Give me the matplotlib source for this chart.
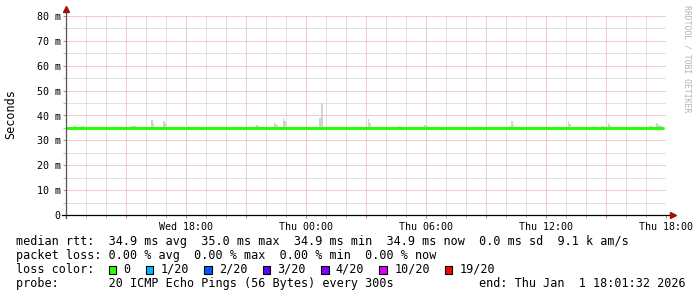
import matplotlib
matplotlib.use("Agg")
import matplotlib.pyplot as plt
from matplotlib.patches import Rectangle
from matplotlib.ticker import MultipleLocator, FuncFormatter

W, H = 697, 297

# time axis: hours since Wed 12:00
median_t = [0.0, 6.0, 12.0, 18.0, 24.0, 29.9]
median_ms = [35.0, 34.9, 34.9, 34.9, 34.9, 34.9]

# smoke (spread of the 20 pings), start/end hour and top in ms
smoke_start = [0.35, 0.75, 3.25, 3.60, 4.25, 4.35, 4.85, 4.95, 6.10, 9.50, 9.60,
               10.40, 10.50, 10.85, 10.90, 12.65, 12.75, 15.10, 15.15, 16.65,
               17.90, 18.00, 22.15, 22.25, 22.35, 25.10, 25.15, 26.35, 26.75,
               27.10, 27.15, 29.15, 29.50, 29.60, 29.70]
smoke_end = [0.50, 0.90, 3.50, 3.65, 4.35, 4.40, 4.95, 5.00, 6.15, 9.60, 9.65,
             10.50, 10.60, 10.90, 11.00, 12.75, 12.85, 15.15, 15.25, 16.75,
             18.00, 18.10, 22.25, 22.35, 22.40, 25.15, 25.25, 26.40, 26.90,
             27.15, 27.25, 29.30, 29.60, 29.70, 29.80]
smoke_top = [35.8, 35.8, 35.8, 35.5, 38.2, 37.0, 37.8, 37.0, 35.8, 36.2, 35.8,
             37.0, 36.2, 39.0, 37.8, 39.0, 45.0, 38.6, 37.0, 35.8,
             36.2, 35.8, 35.8, 37.8, 36.2, 37.8, 36.6, 35.8, 35.8,
             37.0, 36.2, 35.8, 37.0, 36.2, 35.8]

x_label_hours = [6, 12, 18, 24, 30]
x_labels = ["Wed 18:00", "Thu 00:00", "Thu 06:00", "Thu 12:00", "Thu 18:00"]

stats_lines = [
    "median rtt:  34.9 ms avg  35.0 ms max  34.9 ms min  34.9 ms now  0.0 ms sd  9.1 k am/s",
    "packet loss: 0.00 % avg  0.00 % max  0.00 % min  0.00 % now",
    "loss color:",
    "probe:       20 ICMP Echo Pings (56 Bytes) every 300s",
]
end_text = "end: Thu Jan  1 18:01:32 2026"
loss_labels = ["0", "1/20", "2/20", "3/20", "4/20", "10/20", "19/20"]
loss_colors = ["#26ff00", "#00b8ff", "#0059ff", "#5e00ff", "#7e00ff", "#dd00ff", "#ff0000"]

MONO = "DejaVu Sans Mono"


def fx(x):
    return x / W


def fy(y):
    return 1 - y / H


fig = plt.figure(figsize=(W / 100, H / 100), dpi=100)
ax = fig.add_axes([fx(66), fy(215), 600 / W, 199 / H])
ax.set_xlim(0, 30)
ax.set_ylim(0, 80)

for s, e, top in zip(smoke_start, smoke_end, smoke_top):
    ax.bar(s, top - 34.9, bottom=34.9, width=e - s, align="edge",
           color="#d2d2d2", linewidth=0, zorder=2)

ax.plot(median_t, median_ms, drawstyle="steps-post", color="#26ff00",
        lw=2.2, solid_capstyle="butt", zorder=3)

# grid
ax.xaxis.set_major_locator(MultipleLocator(3))
ax.xaxis.set_minor_locator(MultipleLocator(1))
ax.yaxis.set_major_locator(MultipleLocator(10))
ax.yaxis.set_minor_locator(MultipleLocator(5))
ax.set_axisbelow(True)
ax.grid(which="minor", color="#c4c4c4", lw=0.72, linestyle=(0, (1, 1)))
ax.grid(which="major", color="#e49a9a", lw=0.72, linestyle=(0, (1, 1)))

lab = dict(zip(x_label_hours, x_labels))
ax.xaxis.set_major_formatter(FuncFormatter(lambda v, p: lab.get(int(round(v)), "")))
ax.yaxis.set_major_formatter(FuncFormatter(lambda v, p: "0" if v == 0 else "%d m" % v))
ax.tick_params(which="both", length=2.2, width=0.72, pad=1.5, labelsize=7.2)
ax.tick_params(axis="x", which="major", color="#d08080", pad=2.5)
ax.tick_params(axis="y", which="major", color="#d08080")
ax.tick_params(which="minor", color="#bbbbbb")
for t in ax.get_xticklabels() + ax.get_yticklabels():
    t.set_family(MONO)

for sp in ax.spines.values():
    sp.set_visible(False)

# axes with arrows
ax.plot([0, 0], [-0.015, 1.02], transform=ax.transAxes, color="#555555",
        lw=0.9, clip_on=False, zorder=4)
ax.plot([-0.007, 1.008], [0, 0], transform=ax.transAxes, color="#000000",
        lw=0.9, clip_on=False, zorder=4)
ax.plot([0], [1.035], transform=ax.transAxes, marker="^", ms=4.0,
        color="#a01010", clip_on=False, zorder=5)
ax.plot([1.012], [0], transform=ax.transAxes, marker=">", ms=4.0,
        color="#a01010", clip_on=False, zorder=5)

fig.text(fx(11), fy(114), "Seconds", rotation=90, ha="center", va="center",
         family=MONO, size=8.5)
fig.text(fx(687), fy(5), "RRDTOOL / TOBI OETIKER", rotation=-90, ha="center",
         va="top", family=MONO, size=5.9, color="#b4b4b4")

baselines = [244.7, 258.7, 272.7, 286.7]
for line, yb in zip(stats_lines, baselines):
    fig.text(fx(16), fy(yb), line, family=MONO, size=8.5, va="baseline")
fig.text(fx(479), fy(baselines[3]), end_text, family=MONO, size=8.5, va="baseline")

bx = 108.7
for label, col in zip(loss_labels, loss_colors):
    fig.add_artist(Rectangle((fx(bx), fy(273.5)), 7.5 / W, 8 / H,
                             transform=fig.transFigure, facecolor=col,
                             edgecolor="black", lw=0.8))
    lx = bx + 14.8
    fig.text(fx(lx), fy(baselines[2]), label, family=MONO, size=8.5, va="baseline")
    bx = lx + len(label) * 7.1 + 15.2

fig.savefig("out.png", dpi=100, facecolor="white")
